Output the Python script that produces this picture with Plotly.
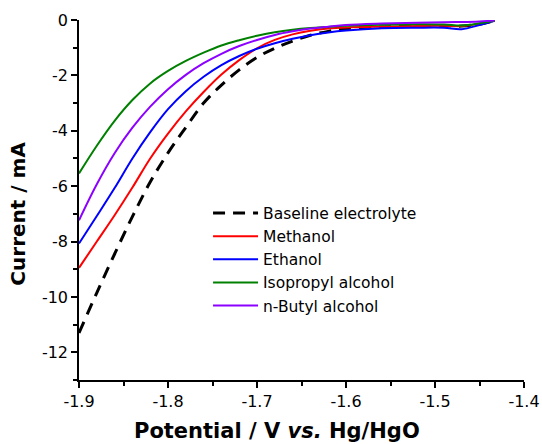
import plotly.graph_objects as go

potential = [-1.9, -1.88, -1.86, -1.84, -1.82, -1.80, -1.78, -1.76, -1.74, -1.72, -1.70,
             -1.68, -1.66, -1.64, -1.62, -1.60, -1.56, -1.52, -1.49, -1.47, -1.45, -1.433]

baseline = [-11.3, -9.85, -8.45, -7.1, -5.85, -4.8, -3.88, -3.0, -2.35, -1.8, -1.35,
            -1.02, -0.76, -0.55, -0.41, -0.31, -0.25, -0.22, -0.2, -0.22, -0.15, -0.03]
methanol = [-8.95, -8.0, -7.05, -6.05, -5.0, -4.1, -3.3, -2.6, -1.97, -1.45, -1.02,
            -0.72, -0.52, -0.39, -0.31, -0.27, -0.24, -0.22, -0.21, -0.22, -0.14, -0.03]
ethanol = [-8.07, -7.08, -6.07, -5.0, -4.05, -3.22, -2.57, -2.05, -1.63, -1.3, -1.04,
           -0.84, -0.68, -0.55, -0.45, -0.38, -0.3, -0.28, -0.28, -0.33, -0.18, -0.03]
isopropyl = [-5.54, -4.54, -3.64, -2.89, -2.29, -1.84, -1.48, -1.18, -0.92, -0.73, -0.57,
             -0.44, -0.35, -0.29, -0.25, -0.21, -0.17, -0.15, -0.16, -0.2, -0.12, -0.03]
butyl = [-7.23, -5.93, -4.81, -3.89, -3.13, -2.5, -1.98, -1.56, -1.22, -0.94, -0.72,
         -0.54, -0.41, -0.31, -0.24, -0.18, -0.13, -0.1, -0.08, -0.07, -0.05, -0.02]

names = ["Baseline electrolyte", "Methanol", "Ethanol", "Isopropyl alcohol", "n-Butyl alcohol"]
series = [baseline, methanol, ethanol, isopropyl, butyl]
colors = ["black", "#ff0000", "#0000ff", "#008000", "#8b00ff"]

x_ticks = [-1.9, -1.8, -1.7, -1.6, -1.5, -1.4]
y_ticks = [0, -2, -4, -6, -8, -10, -12]

fig = go.Figure()
for i in range(5):
    fig.add_trace(go.Scatter(
        x=potential, y=series[i], mode="lines", name=names[i],
        line=dict(color=colors[i], width=3 if i == 0 else 2,
                  dash="12px,8px" if i == 0 else "solid",
                  shape="spline", smoothing=1.0),
    ))

font = "DejaVu Sans, Arial, sans-serif"
fig.update_layout(
    width=542, height=444,
    margin=dict(l=79, r=18, t=20, b=64),
    plot_bgcolor="white", paper_bgcolor="white",
    font=dict(family=font, size=16, color="black"),
    showlegend=True,
    legend=dict(x=0.29, y=0.51, xanchor="left", yanchor="top",
                bgcolor="rgba(0,0,0,0)", font=dict(size=15.5), itemwidth=45,
                tracegroupgap=0),
    annotations=[
        dict(text="<b>Potential / V <i>vs.</i> Hg/HgO</b>", xref="paper", yref="paper",
             x=0.445, y=-0.142, xanchor="center", yanchor="middle", showarrow=False,
             font=dict(size=21, family=font)),
        dict(text="<b>Current / mA</b>", xref="paper", yref="paper",
             x=-0.138, y=0.461, xanchor="center", yanchor="middle", showarrow=False,
             textangle=-90, font=dict(size=20, family=font)),
    ],
)
fig.update_xaxes(
    range=[-1.9, -1.4], tickvals=x_ticks, ticktext=[f"{v:.1f}" for v in x_ticks],
    showgrid=False, zeroline=False, showline=True, linecolor="black", linewidth=1.5,
    ticks="outside", ticklen=6, tickwidth=1.5, tickcolor="black", automargin=False,
    minor=dict(dtick=0.05, tick0=-1.9, ticks="outside", ticklen=4, tickwidth=1.5, tickcolor="black"),
    tickfont=dict(size=16),
)
fig.update_yaxes(
    range=[-13, 0], tickvals=y_ticks, ticktext=[str(v) for v in y_ticks],
    showgrid=False, zeroline=False, showline=True, linecolor="black", linewidth=1.5,
    ticks="outside", ticklen=6, tickwidth=1.5, tickcolor="black", automargin=False,
    minor=dict(dtick=1, tick0=0, ticks="outside", ticklen=4, tickwidth=1.5, tickcolor="black"),
    tickfont=dict(size=16),
)
fig.write_html("out.html")
